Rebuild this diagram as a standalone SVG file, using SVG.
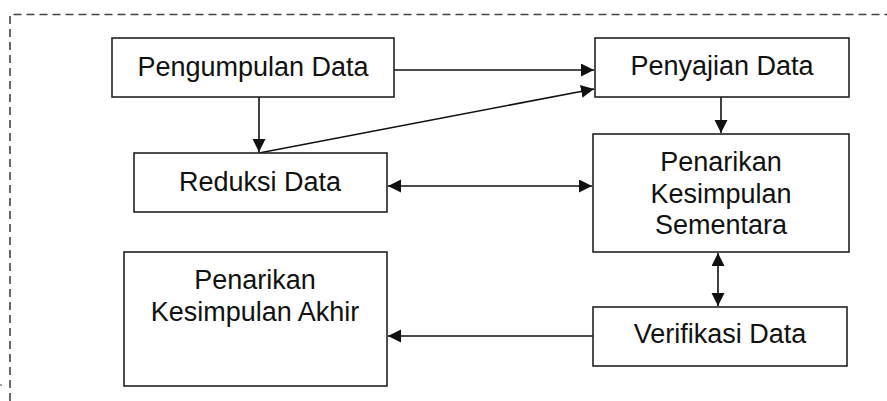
<svg xmlns="http://www.w3.org/2000/svg" width="887" height="401" viewBox="0 0 887 401">
<style>
.box{fill:#fff;stroke:#222;stroke-width:1.6}
.lbl{font-family:"Liberation Sans",Arial,sans-serif;font-size:27px;fill:#111;text-anchor:middle}
.con{fill:none;stroke:#111;stroke-width:1.6}
.frame{fill:none;stroke:#444;stroke-width:1.6;stroke-dasharray:8 5}
</style>
<defs>
<marker id="ah" markerUnits="userSpaceOnUse" markerWidth="14" markerHeight="14" refX="13" refY="6.5" orient="auto-start-reverse">
<path d="M0,0 L13,6.5 L0,13 z" fill="#111"/>
</marker>
</defs>
<rect width="887" height="401" fill="#fff"/>
<path class="frame" d="M10,401 L10,14.5 L887,14.5"/>
<line x1="0" y1="385" x2="2" y2="385" stroke="#444" stroke-width="1.2"/>
<g id="connectors">
<line class="con" x1="394" y1="70" x2="594" y2="70" marker-end="url(#ah)"/>
<line class="con" x1="259" y1="97" x2="259" y2="152" marker-end="url(#ah)"/>
<line class="con" x1="259" y1="153" x2="594" y2="89" marker-end="url(#ah)"/>
<line class="con" x1="388" y1="186" x2="592" y2="186" marker-start="url(#ah)" marker-end="url(#ah)"/>
<line class="con" x1="721" y1="97" x2="721" y2="133" marker-end="url(#ah)"/>
<line class="con" x1="718" y1="253" x2="718" y2="306" marker-start="url(#ah)" marker-end="url(#ah)"/>
<line class="con" x1="593" y1="336" x2="388" y2="336" marker-end="url(#ah)"/>
</g>
<g id="pengumpulan">
<rect class="box" x="112" y="38" width="282" height="59"/>
<text class="lbl" x="253" y="76">Pengumpulan Data</text>
</g>
<g id="reduksi">
<rect class="box" x="134" y="153" width="253" height="59"/>
<text class="lbl" x="260" y="191">Reduksi Data</text>
</g>
<g id="penyajian">
<rect class="box" x="595" y="38" width="254" height="59"/>
<text class="lbl" x="722" y="75">Penyajian Data</text>
</g>
<g id="sementara">
<rect class="box" x="593" y="134" width="256" height="118"/>
<text class="lbl" x="721" y="171">Penarikan</text>
<text class="lbl" x="721" y="203">Kesimpulan</text>
<text class="lbl" x="721" y="234">Sementara</text>
</g>
<g id="verifikasi">
<rect class="box" x="593" y="307" width="254" height="59"/>
<text class="lbl" x="720" y="343">Verifikasi Data</text>
</g>
<g id="akhir">
<rect class="box" x="124" y="252" width="263" height="134"/>
<text class="lbl" x="255" y="289">Penarikan</text>
<text class="lbl" x="255" y="321">Kesimpulan Akhir</text>
</g>
</svg>
